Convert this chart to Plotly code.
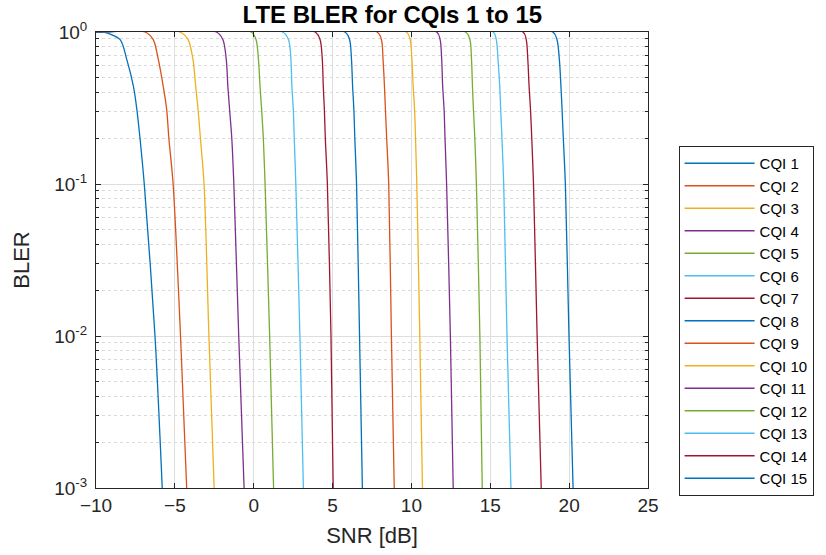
import plotly.graph_objects as go

# BLER levels at which the SNR of each curve is tabulated
bler_levels = [1.0, 1.0, 0.89, 0.66, 0.44, 0.31, 0.20, 0.10, 0.01, 0.001]

# SNR [dB] for each CQI at the BLER levels above
snr_cqi01 = [-10, -9.52, -8.47, -8.05, -7.63, -7.41, -7.21, -6.94, -6.26, -5.80]
snr_cqi02 = [-10, -6.89, -6.37, -6.05, -5.74, -5.52, -5.38, -5.11, -4.64, -4.25]
snr_cqi03 = [-10, -4.68, -4.16, -3.85, -3.68, -3.53, -3.38, -3.15, -2.84, -2.51]
snr_cqi04 = [-10, -2.37, -1.95, -1.74, -1.64, -1.53, -1.39, -1.26, -0.95, -0.61]
snr_cqi05 = [-10, -0.16, 0.15, 0.30, 0.40, 0.50, 0.61, 0.72, 1.01, 1.26]
snr_cqi06 = [-10, 1.83, 2.21, 2.36, 2.42, 2.51, 2.57, 2.67, 2.93, 3.15]
snr_cqi07 = [-10, 3.89, 4.21, 4.35, 4.41, 4.48, 4.54, 4.67, 4.90, 5.04]
snr_cqi08 = [-10, 5.78, 6.08, 6.20, 6.27, 6.35, 6.41, 6.52, 6.71, 6.89]
snr_cqi09 = [-10, 7.82, 8.10, 8.20, 8.29, 8.35, 8.43, 8.56, 8.73, 8.91]
snr_cqi10 = [-10, 9.67, 9.92, 10.03, 10.11, 10.20, 10.26, 10.34, 10.53, 10.70]
snr_cqi11 = [-10, 11.60, 11.82, 11.92, 11.98, 12.07, 12.13, 12.23, 12.47, 12.65]
snr_cqi12 = [-10, 13.43, 13.71, 13.81, 13.87, 13.93, 14.02, 14.12, 14.34, 14.49]
snr_cqi13 = [-10, 15.18, 15.38, 15.49, 15.60, 15.66, 15.74, 15.85, 16.06, 16.31]
snr_cqi14 = [-10, 17.07, 17.28, 17.38, 17.46, 17.55, 17.63, 17.74, 17.97, 18.23]
snr_cqi15 = [-10, 18.96, 19.23, 19.38, 19.48, 19.55, 19.63, 19.76, 19.99, 20.25]

curves = [snr_cqi01, snr_cqi02, snr_cqi03, snr_cqi04, snr_cqi05,
          snr_cqi06, snr_cqi07, snr_cqi08, snr_cqi09, snr_cqi10,
          snr_cqi11, snr_cqi12, snr_cqi13, snr_cqi14, snr_cqi15]
names = [f"CQI {i}" for i in range(1, 16)]

# MATLAB default colour order
palette = ["#0072BD", "#D95319", "#EDB120", "#7E2F8E",
           "#77AC30", "#4DBEEE", "#A2142F"]

x_ticks = [-10, -5, 0, 5, 10, 15, 20, 25]
y_ticks = [0.001, 0.01, 0.1, 1]
y_ticktext = ["10<sup>-3</sup>", "10<sup>-2</sup>", "10<sup>-1</sup>", "10<sup>0</sup>"]
y_minor = [m * 10.0 ** e for e in (-3, -2, -1) for m in range(2, 10)]

FONT = "Liberation Sans"
AX = "#262626"

fig = go.Figure()
for i, (snr, name) in enumerate(zip(curves, names)):
    fig.add_trace(go.Scatter(
        x=snr, y=bler_levels, mode="lines", name=name,
        line=dict(color=palette[i % len(palette)], width=1.3,
                  shape="spline", smoothing=0.8),
    ))

fig.update_layout(
    width=826, height=555,
    margin=dict(l=96, r=176, t=32, b=64),
    paper_bgcolor="white", plot_bgcolor="white",
    font=dict(family=FONT, color=AX),
    title=dict(text="<b>LTE BLER for CQIs 1 to 15</b>", x=0.475, xref="container",
               xanchor="center", y=0.973, yref="container", yanchor="middle",
               font=dict(family=FONT, size=24, color="black")),
    legend=dict(x=1.0554, xanchor="left", y=0.75, yanchor="top",
                bgcolor="white", bordercolor=AX, borderwidth=1,
                font=dict(family=FONT, size=15, color="black"),
                itemwidth=70, tracegroupgap=0),
    showlegend=True,
)

fig.update_xaxes(
    range=[-10, 25], tickvals=x_ticks, ticks="inside", ticklen=5,
    tickcolor=AX, showline=True, linecolor=AX, linewidth=1, mirror="ticks",
    showgrid=True, gridcolor="#dedede", gridwidth=1, zeroline=False,
    tickfont=dict(family=FONT, size=19, color=AX),
    title=dict(text="SNR [dB]", font=dict(family=FONT, size=22, color=AX), standoff=12),
)
fig.update_yaxes(
    type="log", range=[-3, 0], tickvals=y_ticks, ticktext=y_ticktext,
    ticks="inside", ticklen=5, tickcolor=AX, showline=True, linecolor=AX,
    linewidth=1, mirror="ticks", showgrid=True, gridcolor="#dedede",
    zeroline=False, tickfont=dict(family=FONT, size=19, color=AX),
    ticklabelstandoff=4,
    minor=dict(tickmode="array", tickvals=y_minor, ticks="inside", ticklen=3,
               tickcolor=AX, showgrid=True, gridcolor="#dadada", griddash="dot"),
    title=dict(text="BLER", font=dict(family=FONT, size=22, color=AX), standoff=18),
)

fig.write_html("out.html")
